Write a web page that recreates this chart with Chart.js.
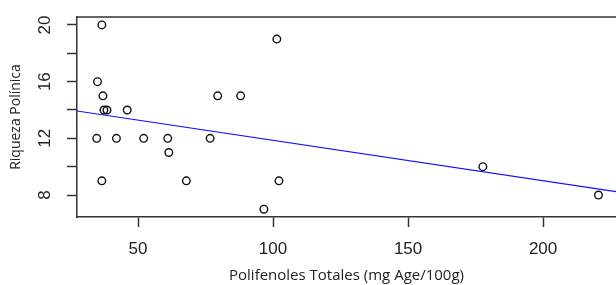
<!DOCTYPE html>
<html>
<head>
<meta charset="utf-8">
<script src="https://cdn.jsdelivr.net/npm/chart.js@4/dist/chart.umd.min.js"></script>
<style>
    html, body { margin: 0; padding: 0; background: #fff; overflow: hidden; }
</style>
</head>
<body>
<canvas id="chart" width="616" height="285"></canvas>
<script>
(function() {
    'use strict';

    // Muestras: polifenoles totales (x) y riqueza polinica (y)
    var polifenoles = [36.6, 35.0, 37.0, 37.4, 38.5, 46.0, 34.7, 42.0, 52.1, 61.0,
                       61.4, 76.7, 79.5, 88.0, 36.6, 67.9, 96.6, 102.2, 101.4, 177.7, 220.5];
    var riqueza     = [20, 16, 15, 14, 14, 14, 12, 12, 12, 12,
                       11, 12, 15, 15, 9, 9, 7, 9, 19, 10, 8];

    // Recta de regresion (extremos)
    var rectaX = [27.4, 227];
    var rectaY = [13.93, 8.24];

    // Ejes
    var xTicks = [50, 100, 150, 200];
    var yLabels = [8, 12, 16, 20];
    var xTitle = 'Polifenoles Totales (mg Age/100g)';
    var yTitle = 'Riqueza Polínica';

    var axisColor = '#333333';
    var textColor = '#222222';
    var tickFont = '"Liberation Sans", Arial, sans-serif';

    var puntos = polifenoles.map(function(v, i) {
        return { x: v, y: riqueza[i] };
    });
    var recta = rectaX.map(function(v, i) {
        return { x: v, y: rectaY[i] };
    });

    /**
     * Top border of the box and R-style rotated y labels
     */
    var rBoxPlugin = {
        id: 'rBox',
        afterDraw: function(chart) {
            var ctx = chart.ctx;
            var area = chart.chartArea;
            var yScale = chart.scales.y;

            ctx.save();
            ctx.strokeStyle = axisColor;
            ctx.lineWidth = 1.5;
            ctx.beginPath();
            ctx.moveTo(area.left - 0.75, area.top);
            ctx.lineTo(area.right, area.top);
            ctx.stroke();

            ctx.fillStyle = textColor;
            ctx.font = '17px ' + tickFont;
            ctx.textAlign = 'center';
            ctx.textBaseline = 'middle';
            yLabels.forEach(function(v) {
                var py = yScale.getPixelForValue(v);
                ctx.save();
                ctx.translate(yScale.right - 32, py);
                ctx.rotate(-Math.PI / 2);
                ctx.fillText(String(v), 0, 0);
                ctx.restore();
            });
            ctx.restore();
        }
    };

    new Chart(document.getElementById('chart').getContext('2d'), {
        type: 'scatter',
        data: {
            datasets: [{
                data: puntos,
                pointStyle: 'circle',
                pointRadius: 3.8,
                pointBorderWidth: 1.4,
                pointBorderColor: '#111111',
                pointBackgroundColor: 'rgba(0,0,0,0)',
                showLine: false
            }, {
                data: recta,
                showLine: true,
                borderColor: '#1010ff',
                borderWidth: 1.2,
                pointRadius: 0
            }]
        },
        plugins: [rBoxPlugin],
        options: {
            responsive: false,
            animation: false,
            layout: {
                autoPadding: false,
                padding: { top: 17, right: 0, bottom: 0, left: 0 }
            },
            plugins: {
                legend: { display: false },
                tooltip: { enabled: false }
            },
            scales: {
                x: {
                    type: 'linear',
                    position: 'bottom',
                    min: 27.4,
                    max: 227,
                    afterFit: function(scale) { scale.height = 68; },
                    afterBuildTicks: function(scale) {
                        scale.ticks = xTicks.map(function(v) { return { value: v }; });
                    },
                    border: { display: true, color: axisColor, width: 1.5 },
                    grid: {
                        drawOnChartArea: false,
                        drawTicks: true,
                        tickLength: 10,
                        tickWidth: 1.5,
                        tickColor: axisColor
                    },
                    ticks: {
                        color: textColor,
                        padding: 12,
                        maxRotation: 0,
                        font: { family: tickFont, size: 17 }
                    },
                    title: {
                        display: true,
                        text: xTitle,
                        color: textColor,
                        padding: { top: 0, bottom: 0 },
                        font: { family: '"Open Sans", sans-serif', size: 15 }
                    }
                },
                y: {
                    type: 'linear',
                    position: 'left',
                    min: 6.45,
                    max: 20.56,
                    afterFit: function(scale) { scale.width = 77; },
                    afterBuildTicks: function(scale) {
                        var t = [];
                        for (var v = 8; v <= 20; v += 2) t.push({ value: v });
                        scale.ticks = t;
                    },
                    border: { display: true, color: axisColor, width: 1.5 },
                    grid: {
                        drawOnChartArea: false,
                        drawTicks: true,
                        tickLength: 10,
                        tickWidth: 1.5,
                        tickColor: axisColor
                    },
                    ticks: { display: false },
                    title: {
                        display: true,
                        text: yTitle,
                        color: textColor,
                        padding: { top: 8, bottom: 0 },
                        font: { family: '"Open Sans", sans-serif', size: 14 }
                    }
                }
            }
        }
    });
})();
</script>
</body>
</html>
